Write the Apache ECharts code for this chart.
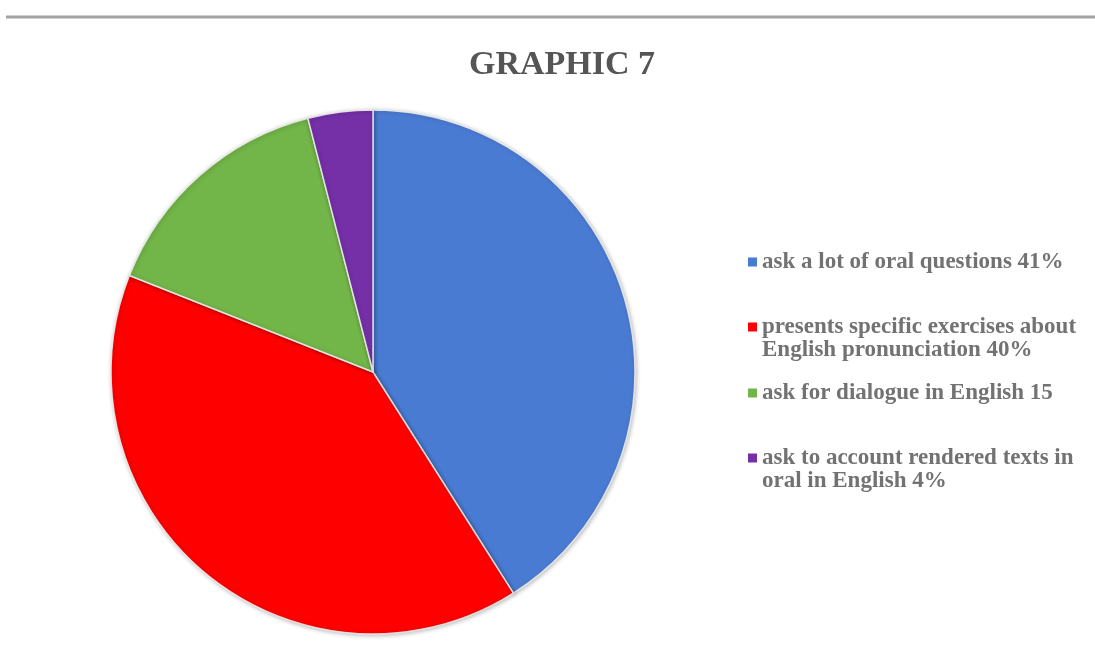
<!DOCTYPE html>
<html>
<head>
<meta charset="utf-8">
<script src="https://cdn.jsdelivr.net/npm/echarts@6/dist/echarts.min.js"></script>
<style>
  html, body { margin: 0; padding: 0; background: #fff; }
  #chart { width: 1095px; height: 648px; }
</style>
</head>
<body>
<div id="chart"></div>
<script>
// categories and values
var categories = [
  "ask a lot of oral questions 41%",
  "presents specific exercises about English pronunciation 40%",
  "ask for dialogue in English 15",
  "ask to account rendered texts in oral in English 4%"
];
var values = [41, 40, 15, 4];
var colors = ["#4a7bd3", "#fe0000", "#72b548", "#7530a8"];
// legend label lines (line breaks as in the picture)
var legendLines = [
  ["ask a lot of oral questions 41%"],
  ["presents specific exercises about", "English pronunciation 40%"],
  ["ask for dialogue in English 15"],
  ["ask to account rendered texts in", "oral in English 4%"]
];
var legendTops = [262, 327, 393, 458]; // centre of first line of each item

var chartDom = document.getElementById("chart");
var myChart = echarts.init(chartDom);
var option;

var lineH = 23;
var sq = 9;
var legends = categories.map(function (name, i) {
  var lines = legendLines[i];
  var h = lines.length * lineH;
  // square sits at the top of a tall icon box so it lines up with the first line
  var iconH = lines.length > 1 ? h - lineH + sq : sq;
  var icon = lines.length > 1
    ? "path://M0,0h" + sq + "v" + sq + "h-" + sq + "z M0," + iconH + "L0," + iconH
    : "rect";
  return {
    data: [name],
    left: 748,
    top: legendTops[i] - h / 2 + (lines.length - 1) * lineH / 2,
    padding: 0,
    orient: "vertical",
    icon: icon,
    itemWidth: sq,
    itemHeight: iconH,
    selectedMode: false,
    itemStyle: { borderWidth: 0 },
    formatter: function () {
      return lines.join("\n");
    },
    textStyle: {
      fontFamily: "Liberation Serif",
      fontWeight: "bold",
      fontSize: 23,
      color: "#727272",
      lineHeight: lineH
    }
  };
});

option = {
  backgroundColor: "#fff",
  animation: false,
  title: {
    text: "GRAPHIC 7",
    left: 557,
    top: 43,
    textAlign: "center",
    textStyle: {
      fontFamily: "Liberation Serif",
      fontWeight: "bold",
      fontSize: 34,
      color: "#555"
    }
  },
  graphic: [
    {
      type: "line",
      shape: { x1: 6, y1: 17, x2: 1095, y2: 17 },
      style: { stroke: "#a3a3a3", lineWidth: 3 }
    }
  ],
  legend: legends,
  series: [
    {
      type: "pie",
      center: [373, 372],
      radius: 262,
      startAngle: 90,
      clockwise: true,
      label: { show: false },
      labelLine: { show: false },
      emphasis: { disabled: true },
      itemStyle: {
        borderColor: "rgba(235,235,235,0.9)",
        borderWidth: 1.5,
        shadowColor: "rgba(0,0,0,0.25)",
        shadowBlur: 4,
        shadowOffsetX: 1,
        shadowOffsetY: 1
      },
      data: categories.map(function (name, i) {
        return { name: name, value: values[i], itemStyle: { color: colors[i] } };
      })
    }
  ]
};

option && myChart.setOption(option);
</script>
</body>
</html>
